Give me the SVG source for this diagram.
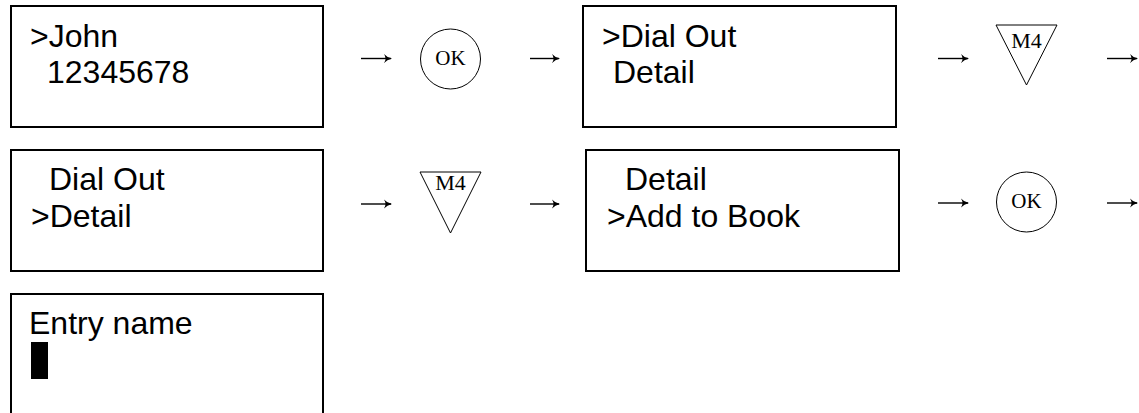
<svg xmlns="http://www.w3.org/2000/svg" width="1139" height="413" viewBox="0 0 1139 413">
<style>
.scr{fill:#fff;stroke:#000;stroke-width:2}
.t{font-family:"Liberation Sans",Arial,sans-serif;font-size:32px;fill:#000}
.key{fill:#fff;stroke:#000;stroke-width:1}
.k{font-family:"Liberation Serif","Times New Roman",serif;font-size:21px;fill:#000;text-anchor:middle}
.m{font-size:22px}
.c{stroke:#000;stroke-width:1.4;fill:none}
</style>
<defs>
<marker id="ah" markerWidth="10" markerHeight="10" refX="8" refY="5" orient="auto" markerUnits="userSpaceOnUse">
<path d="M1,0.5 Q4,4 9,5 Q4,6 1,9.5 Q4,5 1,0.5Z" fill="#000"/>
</marker>
</defs>
<rect width="1139" height="413" fill="#fff"/>
<g id="screen1"><rect class="scr" x="11" y="6" width="312" height="121"/><text class="t" x="30" y="47">&gt;John</text><text class="t" x="47" y="83">12345678</text></g>
<g id="key-ok1"><circle class="key" cx="450.5" cy="59" r="30"/><text class="k" x="450.5" y="65">OK</text></g>
<g id="screen2"><rect class="scr" x="583" y="6" width="313" height="121"/><text class="t" x="602" y="47">&gt;Dial Out</text><text class="t" x="613" y="83">Detail</text></g>
<g id="key-m4a"><polygon class="key" points="996,25 1057,25 1026.5,85"/><text class="k m" x="1026.5" y="48">M4</text></g>
<g id="screen3"><rect class="scr" x="11" y="150" width="312" height="121"/><text class="t" x="49" y="190">Dial Out</text><text class="t" x="31" y="227">&gt;Detail</text></g>
<g id="key-m4b"><polygon class="key" points="420,172 481,172 450.5,233"/><text class="k m" x="450.5" y="190">M4</text></g>
<g id="screen4"><rect class="scr" x="586" y="150" width="313" height="121"/><text class="t" x="625" y="190">Detail</text><text class="t" x="607" y="227">&gt;Add to Book</text></g>
<g id="key-ok2"><circle class="key" cx="1026.5" cy="202" r="30"/><text class="k" x="1026.5" y="208">OK</text></g>
<g id="screen5"><rect class="scr" x="11" y="294" width="312" height="130"/><text class="t" x="29" y="334">Entry name</text><rect x="31" y="342" width="17" height="37" fill="#000"/></g>
<g id="connectors">
<line class="c" x1="361" y1="58.5" x2="391" y2="58.5" marker-end="url(#ah)"/>
<line class="c" x1="530" y1="58.5" x2="559" y2="58.5" marker-end="url(#ah)"/>
<line class="c" x1="938" y1="58.5" x2="968" y2="58.5" marker-end="url(#ah)"/>
<line class="c" x1="1107" y1="58.5" x2="1137" y2="58.5" marker-end="url(#ah)"/>
<line class="c" x1="361" y1="204" x2="391" y2="204" marker-end="url(#ah)"/>
<line class="c" x1="530" y1="204" x2="559" y2="204" marker-end="url(#ah)"/>
<line class="c" x1="938" y1="203" x2="968" y2="203" marker-end="url(#ah)"/>
<line class="c" x1="1107" y1="203" x2="1137" y2="203" marker-end="url(#ah)"/>
</g>
</svg>
